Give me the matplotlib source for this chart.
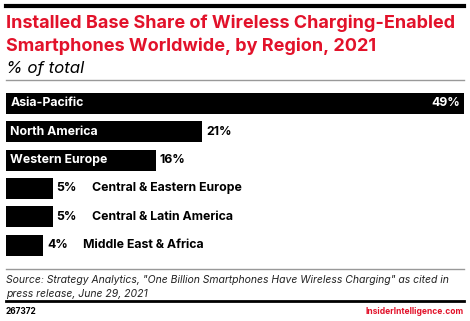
import matplotlib
matplotlib.use("Agg")
import matplotlib.pyplot as plt
from matplotlib.lines import Line2D

# data
regions = ["Asia-Pacific", "North America", "Western Europe",
           "Central & Eastern Europe", "Central & Latin America",
           "Middle East & Africa"]
shares = [49, 21, 16, 5, 5, 4]

title_lines = ["Installed Base Share of Wireless Charging-Enabled",
               "Smartphones Worldwide, by Region, 2021"]
subtitle = "% of total"
source_lines = ['Source: Strategy Analytics, "One Billion Smartphones Have Wireless Charging" as cited in',
                'press release, June 29, 2021']
chart_id = "267372"
brand = "InsiderIntelligence.com"

RED = "#e2122a"
W, H = 470, 321
plt.rcParams['font.family'] = ['Inter', 'DejaVu Sans']

fig = plt.figure(figsize=(W / 100, H / 100), dpi=100)


def fx(px):
    return px / W


def fy(py):
    return 1 - py / H


# header / footer rules
fig.add_artist(Line2D([fx(6), fx(464)], [fy(6), fy(6)], color="black", lw=3))
fig.add_artist(Line2D([fx(6), fx(464)], [fy(80), fy(80)], color="#999999", lw=1))
fig.add_artist(Line2D([fx(6), fx(464)], [fy(269), fy(269)], color="#999999", lw=1))
fig.add_artist(Line2D([fx(6), fx(464)], [fy(301), fy(301)], color="black", lw=2))

for line, base in zip(title_lines, [28, 51]):
    fig.text(fx(6), fy(base), line, color=RED, fontsize=13.0, fontweight="bold",
             va="baseline", ha="left")
fig.text(fx(6), fy(73), subtitle, color="black", fontsize=12.2, style="italic",
         va="baseline", ha="left")

for line, base in zip(source_lines, [283, 297]):
    fig.text(fx(6), fy(base), line, color="#222222", fontsize=7.5, style="italic",
             va="baseline", ha="left")
fig.text(fx(6), fy(311), chart_id, color="black", fontsize=6.0, fontweight="bold",
         va="center", ha="left")
fig.text(fx(464), fy(311), brand, color=RED, fontsize=6.1, fontweight="bold",
         va="center", ha="right")

# bars
ax = fig.add_axes([fx(6), fy(259.5), 458 / W, 170.5 / H])
ypos = list(range(len(regions)))
ax.barh(ypos, shares, height=0.74, color="black")
ax.set_xlim(0, 49)
ax.set_ylim(len(regions) - 0.5, -0.5)
ax.axis("off")

fs = 8.9
for i, (reg, v) in enumerate(zip(regions, shares)):
    if v >= 40:
        ax.text(0.45, i, reg, color="white", fontsize=fs, fontweight="bold",
                va="center", ha="left")
        ax.text(v - 0.45, i, f"{v}%", color="white", fontsize=fs, fontweight="bold",
                va="center", ha="right")
    elif v >= 10:
        ax.text(0.45, i, reg, color="white", fontsize=fs, fontweight="bold",
                va="center", ha="left")
        ax.text(v + 0.4, i, f"{v}%", color="black", fontsize=fs, fontweight="bold",
                va="center", ha="left")
    else:
        ax.text(v + 0.4, i, f"{v}%", color="black", fontsize=fs, fontweight="bold",
                va="center", ha="left")
        ax.text(v + 4.2, i, reg, color="black", fontsize=fs, fontweight="bold",
                va="center", ha="left")

fig.savefig("out.png", dpi=100)
